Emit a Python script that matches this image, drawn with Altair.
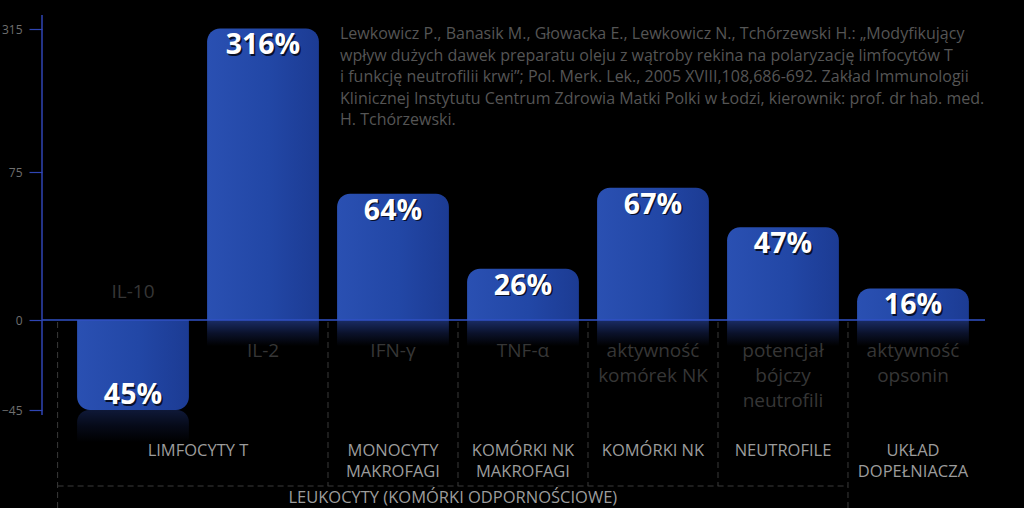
import altair as alt
import pandas as pd

# ---------------- data ----------------
CATEGORIES = ["IL-10", "IL-2", "IFN-γ", "TNF-α",
              "aktywność\nkomórek NK", "potencjał\nbójczy\nneutrofili", "aktywność\nopsonin"]
VALUES = [-45, 316, 64, 26, 67, 47, 16]
VALUE_LABELS = ["45%", "316%", "64%", "26%", "67%", "47%", "16%"]

GROUP_NAMES = ["LIMFOCYTY T", "MONOCYTY\nMAKROFAGI", "KOMÓRKI NK\nMAKROFAGI",
               "KOMÓRKI NK", "NEUTROFILE", "UKŁAD\nDOPEŁNIACZA"]
GROUP_FIRST = [0, 2, 3, 4, 5, 6]
GROUP_LAST = [1, 2, 3, 4, 5, 6]

SUPER_GROUP = "LEUKOCYTY (KOMÓRKI ODPORNOŚCIOWE)"
INNER_DIVIDERS = [1.5, 2.5, 3.5, 4.5]
OUTER_DIVIDERS = [-0.58, 5.5]

Y_TICKS = [-45, 0, 75, 315]

CITATION = ("Lewkowicz P., Banasik M., Głowacka E., Lewkowicz N., Tchórzewski H.: „Modyfikujący\n"
            "wpływ dużych dawek preparatu oleju z wątroby rekina na polaryzację limfocytów T\n"
            "i funkcję neutrofilii krwi”; Pol. Merk. Lek., 2005 XVIII,108,686-692. Zakład Immunologii\n"
            "Klinicznej Instytutu Centrum Zdrowia Matki Polki w Łodzi, kierownik: prof. dr hab. med.\n"
            "H. Tchórzewski.")

bars = pd.DataFrame({
    "idx": list(range(len(CATEGORIES))),
    "cat": CATEGORIES,
    "value": VALUES,
    "label": VALUE_LABELS,
})
groups = pd.DataFrame({
    "name": GROUP_NAMES,
    "center": [(a + b) / 2 for a, b in zip(GROUP_FIRST, GROUP_LAST)],
})
inner_div = pd.DataFrame({"x": INNER_DIVIDERS})
outer_div = pd.DataFrame({"x": OUTER_DIVIDERS})
span = pd.DataFrame({"x": [OUTER_DIVIDERS[0]], "x2": [OUTER_DIVIDERS[1]],
                     "c": [(OUTER_DIVIDERS[0] + OUTER_DIVIDERS[1]) / 2], "t": [SUPER_GROUP]})

FONT = "Open Sans"

xs = alt.Scale(domain=[-0.7, 6.854], nice=False, zero=False)
ys = alt.Scale(domain=[-45, 0, 75, 315], range=[410, 320, 172, 29], nice=False, zero=False)

YAXIS = alt.Axis(values=Y_TICKS, domain=False, grid=False, tickColor="#2f45b4", tickSize=13,
                 tickWidth=1.2, labelColor="#6f6f6f", labelFont=FONT, labelFontSize=12,
                 labelPadding=7, title=None)


def X(f):
    return alt.X(f, type="quantitative", scale=xs, axis=None)


def Y(f):
    return alt.Y(f, type="quantitative", scale=ys, axis=YAXIS)


bar_fill = alt.Gradient(
    gradient="linear", x1=0, y1=0, x2=1, y2=0,
    stops=[alt.GradientStop(color="#2a50b2", offset=0),
           alt.GradientStop(color="#2247a6", offset=0.55),
           alt.GradientStop(color="#1c3b93", offset=1)])

refl_fill = alt.Gradient(
    gradient="linear", x1=0, y1=0, x2=0, y2=1,
    stops=[alt.GradientStop(color="#1d3170", offset=0),
           alt.GradientStop(color="#0c1430", offset=0.5),
           alt.GradientStop(color="#000000", offset=1)])

base = alt.Chart(bars).transform_calculate(
    x0="datum.idx - 0.43", x1="datum.idx + 0.43",
    zero="0",
    r0="datum.value >= 0 ? 0 : datum.value",
    r1="datum.value >= 0 ? -13 : datum.value - 16",
)

reflection_pos = base.transform_filter("datum.value >= 0").mark_bar(
    fill=refl_fill, opacity=0.9).encode(
    x=X("x0:Q"), x2="x1:Q", y=Y("r0:Q"), y2="r1:Q")

reflection_neg = base.transform_filter("datum.value < 0").mark_bar(
    fill=refl_fill, cornerRadiusTopLeft=12, cornerRadiusTopRight=12, opacity=0.5).encode(
    x=X("x0:Q"), x2="x1:Q", y=Y("r0:Q"), y2="r1:Q")

pos_bars = base.transform_filter("datum.value >= 0").mark_bar(
    fill=bar_fill, cornerRadiusTopLeft=13, cornerRadiusTopRight=13).encode(
    x=X("x0:Q"), x2="x1:Q", y=Y("value:Q"), y2="zero:Q")

neg_bars = base.transform_filter("datum.value < 0").mark_bar(
    fill=bar_fill, cornerRadiusBottomLeft=13, cornerRadiusBottomRight=13).encode(
    x=X("x0:Q"), x2="x1:Q", y=Y("value:Q"), y2="zero:Q")


def value_text(sel, dy, color, dx=0, extra=0):
    return base.transform_filter(sel).mark_text(
        font=FONT, fontWeight="bold", fontSize=28.5, color=color, baseline="middle",
        dy=dy + extra, dx=dx).encode(
        x=X("idx:Q"), y=Y("value:Q"), text="label:N")


val_pos_sh = value_text("datum.value >= 0", 17, "#08102a", dx=1.5, extra=1.5)
val_pos = value_text("datum.value >= 0", 17, "#ffffff")
val_neg_sh = value_text("datum.value < 0", -15, "#08102a", dx=1.5, extra=1.5)
val_neg = value_text("datum.value < 0", -15, "#ffffff")

cat_above = base.transform_filter("datum.value < 0").mark_text(
    font=FONT, fontSize=19, color="#363636", baseline="middle").encode(
    x=X("idx:Q"), y=alt.value(292), text="cat:N")
cat_below = base.transform_filter("datum.value >= 0").mark_text(
    font=FONT, fontSize=19, color="#363636", baseline="top", lineBreak="\n",
    lineHeight=25).encode(
    x=X("idx:Q"), y=alt.value(342), text="cat:N")

group_text = alt.Chart(groups).mark_text(
    font=FONT, fontSize=16.5, color="#9c9c9c", baseline="top", lineBreak="\n",
    lineHeight=21).encode(
    x=X("center:Q"), y=alt.value(443), text="name:N")

super_text = alt.Chart(span).mark_text(
    font=FONT, fontSize=16.5, color="#9c9c9c", baseline="middle").encode(
    x=X("c:Q"), y=alt.value(498), text="t:N")

dash = dict(color="#3a3a3a", strokeDash=[6, 4], strokeWidth=1)
inner_lines = alt.Chart(inner_div).mark_rule(**dash).encode(
    x=X("x:Q"), y=alt.value(322), y2=alt.value(486))
outer_lines = alt.Chart(outer_div).mark_rule(**dash).encode(
    x=X("x:Q"), y=alt.value(322), y2=alt.value(508))
h_line = alt.Chart(span).mark_rule(**dash).encode(
    x=X("x:Q"), x2="x2:Q", y=alt.value(486))

y_axis_line = alt.Chart(span).mark_rule(color="#2f45b4", strokeWidth=1.5).encode(
    x=alt.value(0), y=alt.value(15), y2=alt.value(415))
zero_line = alt.Chart(span).mark_rule(color="#3050c4", strokeWidth=1.5).encode(
    x=alt.value(0), x2=alt.value(943), y=alt.value(320))

citation = alt.Chart(span).mark_text(
    font=FONT, fontSize=16, color="#555555", align="left", baseline="top",
    lineBreak="\n", lineHeight=21.5).encode(
    x=alt.value(298), y=alt.value(26), text=alt.value(CITATION))

chart = alt.layer(
    pos_bars, reflection_pos, reflection_neg, inner_lines, outer_lines, h_line,
    neg_bars, zero_line, y_axis_line,
    val_pos_sh, val_pos, val_neg_sh, val_neg,
    cat_above, cat_below, group_text, super_text, citation,
).properties(
    width=982, height=508,
    padding={"left": 42, "top": 0, "right": 0, "bottom": 0},
    autosize=alt.AutoSizeParams(type="none"),
    background="#000000",
).configure_view(stroke=None)

chart.save("out.html", embed_options={"renderer": "svg", "actions": False})
